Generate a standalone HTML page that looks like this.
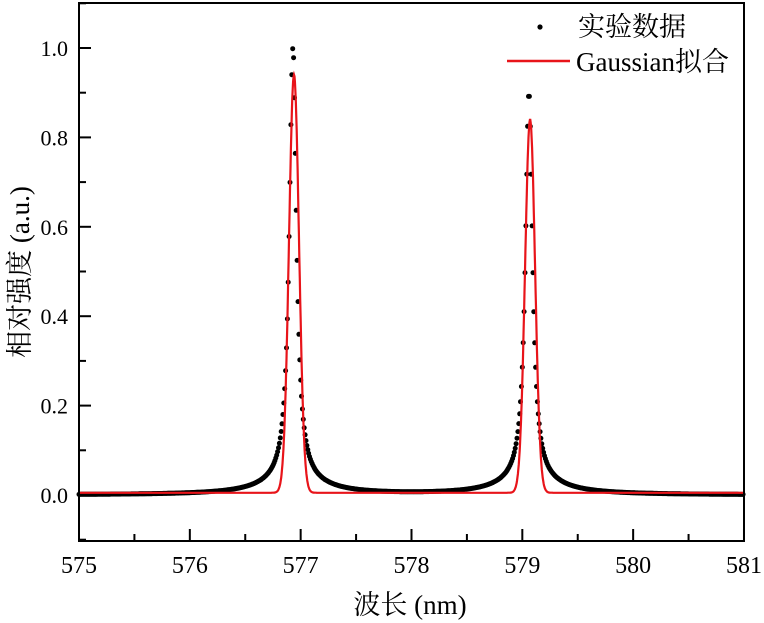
<!DOCTYPE html>
<html><head><meta charset="utf-8"><style>
html,body{margin:0;padding:0;background:#fff;width:764px;height:623px;overflow:hidden}
svg,text{font-family:"Liberation Serif","Times New Roman",Times,"DejaVu Serif","Noto Serif CJK SC",serif;}
text{fill:#000}
</style></head><body>
<svg id="s" width="764" height="623" xmlns="http://www.w3.org/2000/svg">
<g id="d"></g>
<path id="g" fill="none" stroke="#e8141a" stroke-width="2.2"/>
<rect x="79" y="3" width="665" height="538" fill="none" stroke="#000" stroke-width="2"/>
<g id="t" stroke="#000" stroke-width="2"></g>
<g font-size="24" text-anchor="middle" id="xl"></g>
<g font-size="22" text-anchor="end" id="yl"></g>
<text x="410" y="614" font-size="27" text-anchor="middle">波长 (nm)</text>
<text transform="translate(29,272) rotate(-90)" font-size="27" text-anchor="middle">相对强度 (a.u.)</text>
<circle cx="540" cy="27" r="2.6" fill="#000"/>
<text x="578" y="36" font-size="27">实验数据</text>
<line x1="507" y1="61" x2="570" y2="61" stroke="#e8141a" stroke-width="2.4"/>
<text x="576" y="71" font-size="27">Gaussian拟合</text>
</svg>
<script>
var X=function(v){return 79+(v-575)*110.83},Y=function(v){return 495-v*447};
var d='',t='',xl='',yl='';
function L(a,w){return w/(a*a+w);}
for(var x=575.0;x<=581;x+=0.008){
 var a=x-576.93,b=x-579.06,w=0.0015;
 var v=0.97*L(a,w)+0.87*L(b,w)+0.03*L(a,0.1)+0.03*L(b,0.1);
 d+='<circle cx="'+X(x).toFixed(1)+'" cy="'+Y(v).toFixed(1)+'" r="2.5" fill="#000"/>';
}
document.getElementById('d').innerHTML=d;
var p='';
for(var x=575;x<=581.001;x+=0.004){
 var a=x-576.94,b=x-579.07,s=0.045;
 var v=0.005+0.935*Math.exp(-a*a/(2*s*s))+0.835*Math.exp(-b*b/(2*s*s));
 p+=(p?'L':'M')+X(x).toFixed(1)+','+Y(v).toFixed(1);
}
document.getElementById('g').setAttribute('d',p);
for(var i=0;i<=12;i++){var xx=X(575+i*0.5);t+='<line x1="'+xx+'" x2="'+xx+'" y1="541" y2="'+(i%2?534:529)+'"/>';
 if(i%2==0)xl+='<text x="'+xx+'" y="573">'+(575+i/2)+'</text>';}
for(var i=-1;i<=11;i++){var yy=Y(i*0.1);t+='<line x1="79" x2="'+(i%2?86:91)+'" y1="'+yy+'" y2="'+yy+'"/>';
 if(i>=0&&i%2==0)yl+='<text x="68" y="'+(yy+8)+'">'+(i/10).toFixed(1)+'</text>';}
document.getElementById('t').innerHTML=t;
document.getElementById('xl').innerHTML=xl;
document.getElementById('yl').innerHTML=yl;
</script>
</body></html>
